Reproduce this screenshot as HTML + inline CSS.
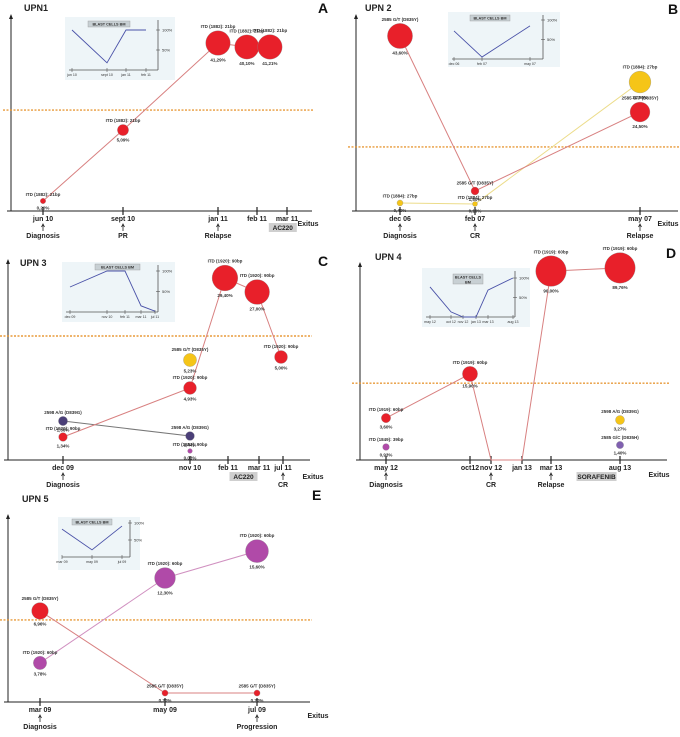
<!DOCTYPE html>
<html><head><meta charset="utf-8"><style>
html,body{margin:0;padding:0;background:#fff}
svg{display:block;font-family:"Liberation Sans",sans-serif}
</style></head><body>
<svg id="fig" width="680" height="737" viewBox="0 0 680 737"></svg>
<script>
// ---------- DATA ----------
// Panel A
const A_tickLabels=["jun 10","sept 10","jan 11","feb 11","mar 11"];
const A_tickMonths=[0,3,7,8,9];
const A_itd_months=[0,3,7,7.74,8.43];
const A_itd_levels=[5.1,41.3,85.7,83.7,83.7];
const A_itd_vafs=[0.2,5.09,41.29,40.1,41.21];
const A_events=["Diagnosis","PR","Relapse"];
const A_eventMonths=[0,3,7];
const A_blastMonths=[0,3,7,8];
const A_blastValues=[100,18,100,100];
// Panel B
const B_tickLabels=["dec 06","feb 07","may 07"];
const B_tickMonths=[0,2,5];
const B_d835_months=[0,2,5];
const B_d835_levels=[89.3,10.2,50.5];
const B_d835_vafs=[43.6,1.5,24.5];
const B_itd_months=[0,2,5];
const B_itd_levels=[4.1,3.6,65.8];
const B_itd_vafs=[0.4,0.1,30.9];
const B_events=["Diagnosis","CR","Relapse"];
const B_eventMonths=[0,2,5];
const B_blastMonths=[0,2,5];
const B_blastValues=[72,5,85];
// Panel C
const C_tickLabels=["dec 09","nov 10","feb 11","mar 11","jul 11"];
const C_tickMonths=[0,11,14,15,19];
const C_itd_months=[0,11,13.76,14.94,18.67];
const C_itd_levels=[11.5,36,91,84,51.5];
const C_itd_vafs=[1.34,4.93,29.4,27,5];
const C_d839_months=[0,11];
const C_d839_levels=[19.5,12];
const C_d839_vafs=[1.66,1.44];
const C_d835_months=[11];
const C_d835_levels=[50];
const C_d835_vafs=[5.23];
const C_itd2_months=[11];
const C_itd2_levels=[4.5];
const C_itd2_vafs=[0.03];
const C_events=["Diagnosis","CR"];
const C_eventMonths=[0,19];
const C_blastMonths=[0,11,14,15,19];
const C_blastValues=[61,100,100,15,2];
// Panel D
const D_tickLabels=["may 12","oct12","nov 12","jan 13","mar 13","aug 13"];
const D_tickMonths=[0,5,6,8,10,15];
const D_itd_months=[0,5,6,8,10,15];
const D_itd_levels=[21.3,43.7,0,0,95.9,97.5];
const D_itd_vafs=[3.6,15.9,0,0,90,89.76];
const D_itd2_months=[0];
const D_itd2_levels=[6.6];
const D_itd2_vafs=[0.93];
const D_d839_months=[15];
const D_d839_levels=[20.3];
const D_d839_vafs=[3.27];
const D_d835_months=[15];
const D_d835_levels=[7.6];
const D_d835_vafs=[1.4];
const D_events=["Diagnosis","CR","Relapse"];
const D_eventMonths=[0,6,10];
const D_blastMonths=[0,5,6,8,10,15];
const D_blastValues=[77,13,0,0,69,100];
// Panel E
const E_tickLabels=["mar 09","may 09","jul 09"];
const E_tickMonths=[0,2,4];
const E_d835_months=[0,2,4];
const E_d835_levels=[48.7,4.8,4.8];
const E_d835_vafs=[6.96,0.2,0.2];
const E_itd_months=[0,2,4];
const E_itd_levels=[20.9,66.3,80.7];
const E_itd_vafs=[3.78,12.3,15.6];
const E_events=["Diagnosis","Progression"];
const E_eventMonths=[0,4];
const E_blastMonths=[0,2,4];
const E_blastValues=[82,21,91];

// ---------- RENDER ----------
const NS="http://www.w3.org/2000/svg";
const svg=document.getElementById('fig');
function mk(tag,attrs,parent,text){
  const e=document.createElementNS(NS,tag);
  for(const k in attrs)e.setAttribute(k,attrs[k]);
  if(text!==undefined)e.textContent=text;
  (parent||svg).appendChild(e);return e;
}
const RED="#e8202a",YEL="#f5c518",PUR="#4b3f78",MAG="#b04aa8",VIO="#8060b0";
function fmt(v){return v.toFixed(2).replace('.',',')+'%';}
// piecewise-linear scale (axis layout: domain months -> range pixels)
function piecewise(dom,rng){
  return m=>{
    if(m<=dom[0])return rng[0]+(m-dom[0])*(rng[1]-rng[0])/(dom[1]-dom[0]);
    for(let i=1;i<dom.length;i++){
      if(m<=dom[i])return rng[i-1]+(m-dom[i-1])/(dom[i]-dom[i-1])*(rng[i]-rng[i-1]);
    }
    const n=dom.length-1;
    return rng[n]+(m-dom[n])*(rng[n]-rng[n-1])/(dom[n]-dom[n-1]);
  };
}

function panel(cfg){
  const g=mk('g',{});
  
  
  const xS=piecewise(cfg.tickMonths,cfg.tickRange);
  const yS=l=>cfg.bot-l/100*(cfg.bot-cfg.top);
  // inset
  const ins=cfg.inset;
  const ig=mk('g',{},g);
  
  
  mk('rect',{x:ins.x,y:ins.y,width:ins.w,height:ins.h,fill:"#eef5f8"},ig);
  const ixS=piecewise(cfg.blastMonths,ins.range);
  const iyS=v=>ins.base-v/100*(ins.base-ins.y100);
  mk('line',{x1:ins.x+4,y1:ins.base,x2:ins.ax,y2:ins.base,stroke:"#555","stroke-width":0.8},ig);
  mk('line',{x1:ins.ax,y1:ins.base,x2:ins.ax,y2:ins.y+3,stroke:"#555","stroke-width":0.8},ig);
  [[100,'100%'],[50,'50%']].forEach(([v,t])=>{
    mk('line',{x1:ins.ax-2,y1:iyS(v),x2:ins.ax+2,y2:iyS(v),stroke:"#555","stroke-width":0.6},ig);
    mk('text',{x:ins.ax+4,y:iyS(v)+1.5,"font-size":4,fill:"#333"},ig,t);
  });
  cfg.blastMonths.forEach((m,i)=>{
    mk('line',{x1:ixS(m),y1:ins.base-2,x2:ixS(m),y2:ins.base+2,stroke:"#555","stroke-width":0.6},ig);
    mk('text',{x:ixS(m),y:ins.base+6,"font-size":3.6,"text-anchor":"middle",fill:"#333"},ig,cfg.blastLabels[i]);
  });
  const bl=mk('polyline',{points:cfg.blastMonths.map((m,i)=>ixS(m)+','+iyS(cfg.blastValues[i])).join(' '),fill:"none",stroke:"#4a52a8","stroke-width":0.9},ig);
  
  
  mk('rect',{x:ins.lx,y:ins.ly,width:ins.lw,height:ins.lh,fill:"#c8d0d4",stroke:"#999","stroke-width":0.4},ig);
  ins.ltext.forEach((t,i)=>mk('text',{x:ins.lx+ins.lw/2,y:ins.ly+4.5+i*5,"font-size":3.8,"font-weight":"bold","text-anchor":"middle",fill:"#333"},ig,t));
  // axes
  mk('line',{x1:cfg.ax,y1:cfg.bot,x2:cfg.ax,y2:cfg.top,stroke:"#222","stroke-width":1},g);
  mk('path',{d:`M${cfg.ax-2},${cfg.top+4}L${cfg.ax},${cfg.top-1}L${cfg.ax+2},${cfg.top+4}Z`,fill:"#222"},g);
  mk('line',{x1:cfg.ax-4,y1:cfg.bot,x2:cfg.xEnd,y2:cfg.bot,stroke:"#222","stroke-width":1},g);
  const th=mk('line',{x1:cfg.ax-8,y1:yS(cfg.threshold),x2:cfg.xEnd+2,y2:yS(cfg.threshold),stroke:"#e89a3a","stroke-width":1.4,"stroke-dasharray":"2,1.5"},g);
  
  
  cfg.tickMonths.forEach((m,i)=>{
    mk('line',{x1:xS(m),y1:cfg.bot-4,x2:xS(m),y2:cfg.bot+4,stroke:"#222","stroke-width":1.2},g);
    const t=mk('text',{x:xS(m),y:cfg.bot+10,"font-size":7,"font-weight":"bold","text-anchor":"middle",fill:"#222"},g,cfg.tickLabels[i]);
    
    
  });
  cfg.eventMonths.forEach((m,i)=>{
    const x=xS(m);
    mk('line',{x1:x,y1:cfg.bot+20,x2:x,y2:cfg.bot+14,stroke:"#222","stroke-width":0.8},g);
    mk('path',{d:`M${x-1.5},${cfg.bot+16}L${x},${cfg.bot+13}L${x+1.5},${cfg.bot+16}`,fill:"none",stroke:"#222","stroke-width":0.8},g);
    const t=mk('text',{x:x,y:cfg.bot+27,"font-size":7,"font-weight":"bold","text-anchor":"middle",fill:"#222"},g,cfg.events[i]);
    
    
  });
  if(cfg.drug){
    const x=xS(cfg.drug.month);
    mk('rect',{x:x-cfg.drug.w/2,y:cfg.bot+12,width:cfg.drug.w,height:9,fill:"#cfcfcf"},g);
    const t=mk('text',{x:x,y:cfg.bot+19,"font-size":6.5,"font-weight":"bold","text-anchor":"middle",fill:"#222"},g,cfg.drug.text);
    
    
  }
  const ex=mk('text',{x:cfg.exitus[0],y:cfg.exitus[1],"font-size":7,"font-weight":"bold","text-anchor":"middle",fill:"#222"},g,"Exitus");
  
  
  const tt=mk('text',{x:cfg.title[0],y:cfg.title[1],"font-size":9,"font-weight":"bold",fill:"#222"},g,cfg.titleText);
  
  
  const lt=mk('text',{x:cfg.letter[0],y:cfg.letter[1],"font-size":14,"font-weight":"bold",fill:"#111"},g,cfg.id);
  
  
  cfg.series.forEach(s=>{
    if(s.months.length>1){
      const pl=mk('polyline',{points:s.months.map((m,i)=>xS(m)+','+yS(s.levels[i])).join(' '),fill:"none",stroke:s.line,"stroke-width":1},g);
      
      
    }
  });
  cfg.series.forEach(s=>{
    s.months.forEach((m,i)=>{
      const v=s.vafs[i];if(!v)return;
      const x=xS(m),y=yS(s.levels[i]),r=2+cfg.k*Math.sqrt(v);
      const c=mk('circle',{cx:x,cy:y,r:r,fill:s.color,stroke:"#888","stroke-width":0.3},g);
      
      
      mk('text',{x:x,y:y-r-2.5,"font-size":4.5,"font-weight":"bold","text-anchor":"middle",fill:"#333"},g,s.label);
      mk('text',{x:x,y:y+r+6,"font-size":4.5,"font-weight":"bold","text-anchor":"middle",fill:"#333"},g,fmt(v));
    });
  });
}

panel({id:"A",titleText:"UPN1",title:[24,11],letter:[318,13],ax:11,top:15,bot:211,xEnd:312,tickRange:[43,123,218,257,287],threshold:51.5,k:1.6,
  tickLabels:A_tickLabels,tickMonths:A_tickMonths,events:A_events,eventMonths:A_eventMonths,
  drug:{month:8.86,text:"AC220",w:28},exitus:[308,226],
  blastMonths:A_blastMonths,blastValues:A_blastValues,blastLabels:["jun 10","sept 10","jan 11","feb 11"],
  inset:{x:65,y:17,w:110,h:63,ax:158,base:70,y100:30,range:[72,107,126,146],lx:88,ly:21,lw:42,lh:6,ltext:["BLAST CELLS BM"]},
  series:[{months:A_itd_months,levels:A_itd_levels,vafs:A_itd_vafs,color:RED,line:"#d88080",label:"ITD (1882): 21bp"}]});

panel({id:"B",titleText:"UPN 2",title:[365,11],letter:[668,14],ax:356,top:15,bot:211,xEnd:678,tickRange:[400,475,640],threshold:32.7,k:1.6,
  tickLabels:B_tickLabels,tickMonths:B_tickMonths,events:B_events,eventMonths:B_eventMonths,
  exitus:[668,226],
  blastMonths:B_blastMonths,blastValues:B_blastValues,blastLabels:["dec 06","feb 07","may 07"],
  inset:{x:448,y:12,w:112,h:55,ax:543,base:59,y100:20,range:[454,482,530],lx:470,ly:15,lw:40,lh:6,ltext:["BLAST CELLS BM"]},
  series:[{months:B_itd_months,levels:B_itd_levels,vafs:B_itd_vafs,color:YEL,line:"#ecdc8a",label:"ITD (1884): 27bp"},
          {months:B_d835_months,levels:B_d835_levels,vafs:B_d835_vafs,color:RED,line:"#d88080",label:"2585 G/T (D835Y)"}]});

panel({id:"C",titleText:"UPN 3",title:[20,266],letter:[318,266],ax:8,top:260,bot:460,xEnd:310,tickRange:[63,190,228,259,283],threshold:62,k:2,
  tickLabels:C_tickLabels,tickMonths:C_tickMonths,events:C_events,eventMonths:C_eventMonths,
  drug:{month:14.5,text:"AC220",w:28},exitus:[313,479],
  blastMonths:C_blastMonths,blastValues:C_blastValues,blastLabels:["dec 09","nov 10","feb 11","mar 11","jul 11"],
  inset:{x:62,y:262,w:113,h:60,ax:158,base:312,y100:271,range:[70,107,125,141,155],lx:95,ly:264,lw:45,lh:6,ltext:["BLAST CELLS BM"]},
  series:[{months:C_d839_months,levels:C_d839_levels,vafs:C_d839_vafs,color:PUR,line:"#777",label:"2598 A/G (D839G)"},
          {months:C_itd_months,levels:C_itd_levels,vafs:C_itd_vafs,color:RED,line:"#d88080",label:"ITD (1920): 90bp"},
          {months:C_d835_months,levels:C_d835_levels,vafs:C_d835_vafs,color:YEL,line:"#ecdc8a",label:"2585 G/T (D835Y)"},
          {months:C_itd2_months,levels:C_itd2_levels,vafs:C_itd2_vafs,color:MAG,line:"#c080c0",label:"ITD (1852): 90bp"}]});

panel({id:"D",titleText:"UPN 4",title:[375,260],letter:[666,258],ax:360,top:263,bot:460,xEnd:667,tickRange:[386,470,491,522,551,620],threshold:39,k:1.4,
  tickLabels:D_tickLabels,tickMonths:D_tickMonths,events:D_events,eventMonths:D_eventMonths,
  drug:{month:13.3,text:"SORAFENIB",w:40},exitus:[659,477],
  blastMonths:D_blastMonths,blastValues:D_blastValues,blastLabels:["may 12","oct 12","nov 12","jan 13","mar 13","aug 13"],
  inset:{x:422,y:268,w:108,h:59,ax:515,base:317,y100:278,range:[430,451,463,476,488,513],lx:453,ly:274,lw:30,lh:10,ltext:["BLAST CELLS","BM"]},
  series:[{months:D_itd_months,levels:D_itd_levels,vafs:D_itd_vafs,color:RED,line:"#d88080",label:"ITD (1919): 60bp"},
          {months:D_itd2_months,levels:D_itd2_levels,vafs:D_itd2_vafs,color:MAG,line:"#c080c0",label:"ITD (1849): 39bp"},
          {months:D_d839_months,levels:D_d839_levels,vafs:D_d839_vafs,color:YEL,line:"#ecdc8a",label:"2598 A/G (D839G)"},
          {months:D_d835_months,levels:D_d835_levels,vafs:D_d835_vafs,color:VIO,line:"#9080c0",label:"2585 G/C (D835H)"}]});

panel({id:"E",titleText:"UPN 5",title:[22,502],letter:[312,500],ax:8,top:515,bot:702,xEnd:310,tickRange:[40,165,257],threshold:43.9,k:2.4,
  tickLabels:E_tickLabels,tickMonths:E_tickMonths,events:E_events,eventMonths:E_eventMonths,
  exitus:[318,718],
  blastMonths:E_blastMonths,blastValues:E_blastValues,blastLabels:["mar 09","may 09","jul 09"],
  inset:{x:58,y:517,w:82,h:53,ax:130,base:557,y100:523,range:[62,92,122],lx:72,ly:519,lw:40,lh:6,ltext:["BLAST CELLS BM"]},
  series:[{months:E_itd_months,levels:E_itd_levels,vafs:E_itd_vafs,color:MAG,line:"#d090c0",label:"ITD (1920): 60bp"},
          {months:E_d835_months,levels:E_d835_levels,vafs:E_d835_vafs,color:RED,line:"#d88080",label:"2585 G/T (D835Y)"}]});
</script>
</body></html>
